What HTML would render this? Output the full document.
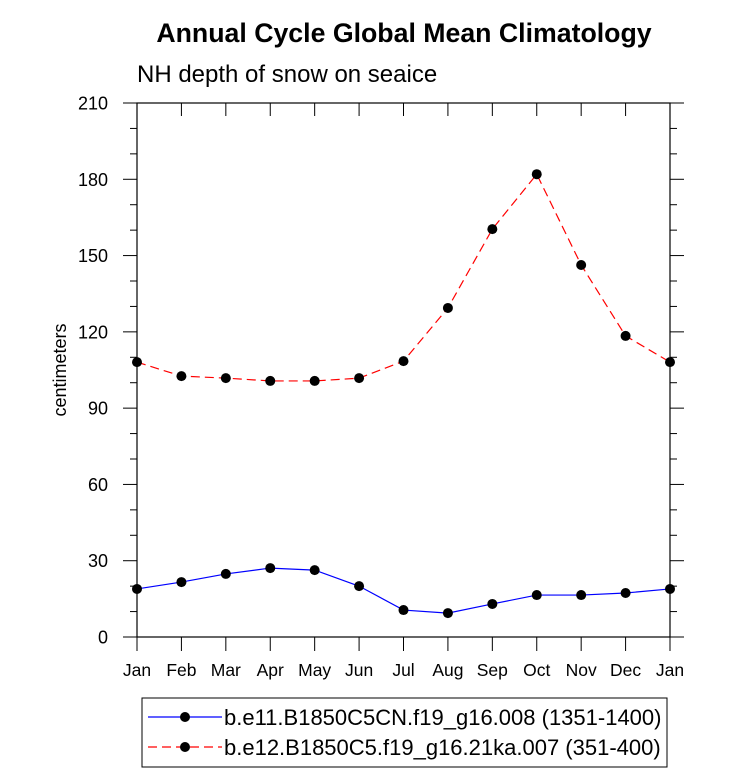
<!DOCTYPE html>
<html><head><meta charset="utf-8"><style>
body{margin:0;background:#fff;}
svg text{font-family:"Liberation Sans",Helvetica,sans-serif;}
</style></head><body>
<svg id="chart" width="733" height="776" xmlns="http://www.w3.org/2000/svg">
<text x="404" y="42" text-anchor="middle" font-size="26.7" font-weight="bold">Annual Cycle Global Mean Climatology</text>
<text x="137" y="82" font-size="24">NH depth of snow on seaice</text>
<text transform="translate(66,370) rotate(-90)" text-anchor="middle" font-size="18">centimeters</text>
<g id="axes"></g>
<g id="series"></g>
<g>
<rect x="142" y="698" width="525" height="69" fill="#fff" stroke="#000" stroke-width="1"/>
<g>
<line x1="148" y1="717" x2="222" y2="717" stroke="#0000ff" stroke-width="1.2"/>
<circle cx="185" cy="717" r="5" fill="#000"/>
<text x="224" y="725" font-size="22">b.e11.B1850C5CN.f19_g16.008 (1351-1400)</text>
</g>
<g>
<line x1="148" y1="747" x2="222" y2="747" stroke="#ff0000" stroke-width="1.2" stroke-dasharray="9,5"/>
<circle cx="185" cy="747" r="5" fill="#000"/>
<text x="224" y="755" font-size="22">b.e12.B1850C5.f19_g16.21ka.007 (351-400)</text>
</g>
</g>
</svg>
<script>
const months=["Jan","Feb","Mar","Apr","May","Jun","Jul","Aug","Sep","Oct","Nov","Dec","Jan"];
const yTicks=[0,30,60,90,120,150,180,210];
const seriesB=[18.9,21.6,24.8,27.1,26.3,20.0,10.6,9.4,13.0,16.5,16.5,17.3,18.9];
const seriesR=[108.1,102.6,101.8,100.7,100.7,101.8,108.5,129.4,160.4,182.0,146.3,118.4,108.1];
const L=137,R=670,T=103,B=637,YMAX=210;
const NS="http://www.w3.org/2000/svg";
function xs(i){return L+i*(R-L)/(months.length-1);}
function ys(v){return B-v/YMAX*(B-T);}
function mk(tag,attrs,parent){const e=document.createElementNS(NS,tag);for(const k in attrs)e.setAttribute(k,attrs[k]);parent.appendChild(e);return e;}
const ax=document.getElementById('axes');
const frame=mk('rect',{x:L,y:T,width:R-L,height:B-T,fill:'none',stroke:'#000','stroke-width':1.2},ax);


for(let v=0;v<=YMAX;v+=10){
 const major=v%30===0, len=major?14:7, y=ys(v);
 mk('line',{x1:L-len,y1:y,x2:L,y2:y,stroke:'#000','stroke-width':1},ax);
 mk('line',{x1:R,y1:y,x2:R+len,y2:y,stroke:'#000','stroke-width':1},ax);
}
yTicks.forEach(v=>{
 const t=mk('text',{x:L-29,y:ys(v)+6.5,'text-anchor':'end','font-size':18},ax);
 t.textContent=v;
 
 
});
months.forEach((m,i)=>{
 const x=xs(i);
 mk('line',{x1:x,y1:B,x2:x,y2:B+14,stroke:'#000','stroke-width':1},ax);
 mk('line',{x1:x,y1:T,x2:x,y2:T+13,stroke:'#000','stroke-width':1},ax);
 const t=mk('text',{x:x,y:B+39,'text-anchor':'middle','font-size':17.5},ax);
 t.textContent=m;
 
 
});
const sg=document.getElementById('series');
function draw(data,color,dash,name){
 const g=mk('g',{},sg);
 
 
 const pts=data.map((v,i)=>xs(i)+','+ys(v)).join(' ');
 const pl=mk('polyline',{points:pts,fill:'none',stroke:color,'stroke-width':1.2},g);
 if(dash)pl.setAttribute('stroke-dasharray',dash);
 
 
 data.forEach((v,i)=>{
  const c=mk('circle',{cx:xs(i),cy:ys(v),r:5,fill:'#000'},g);
  
  
 });
}
draw(seriesB,'#0000ff',null,'series-b-e11');
draw(seriesR,'#ff0000','9,5','series-b-e12');
</script>
</body></html>
